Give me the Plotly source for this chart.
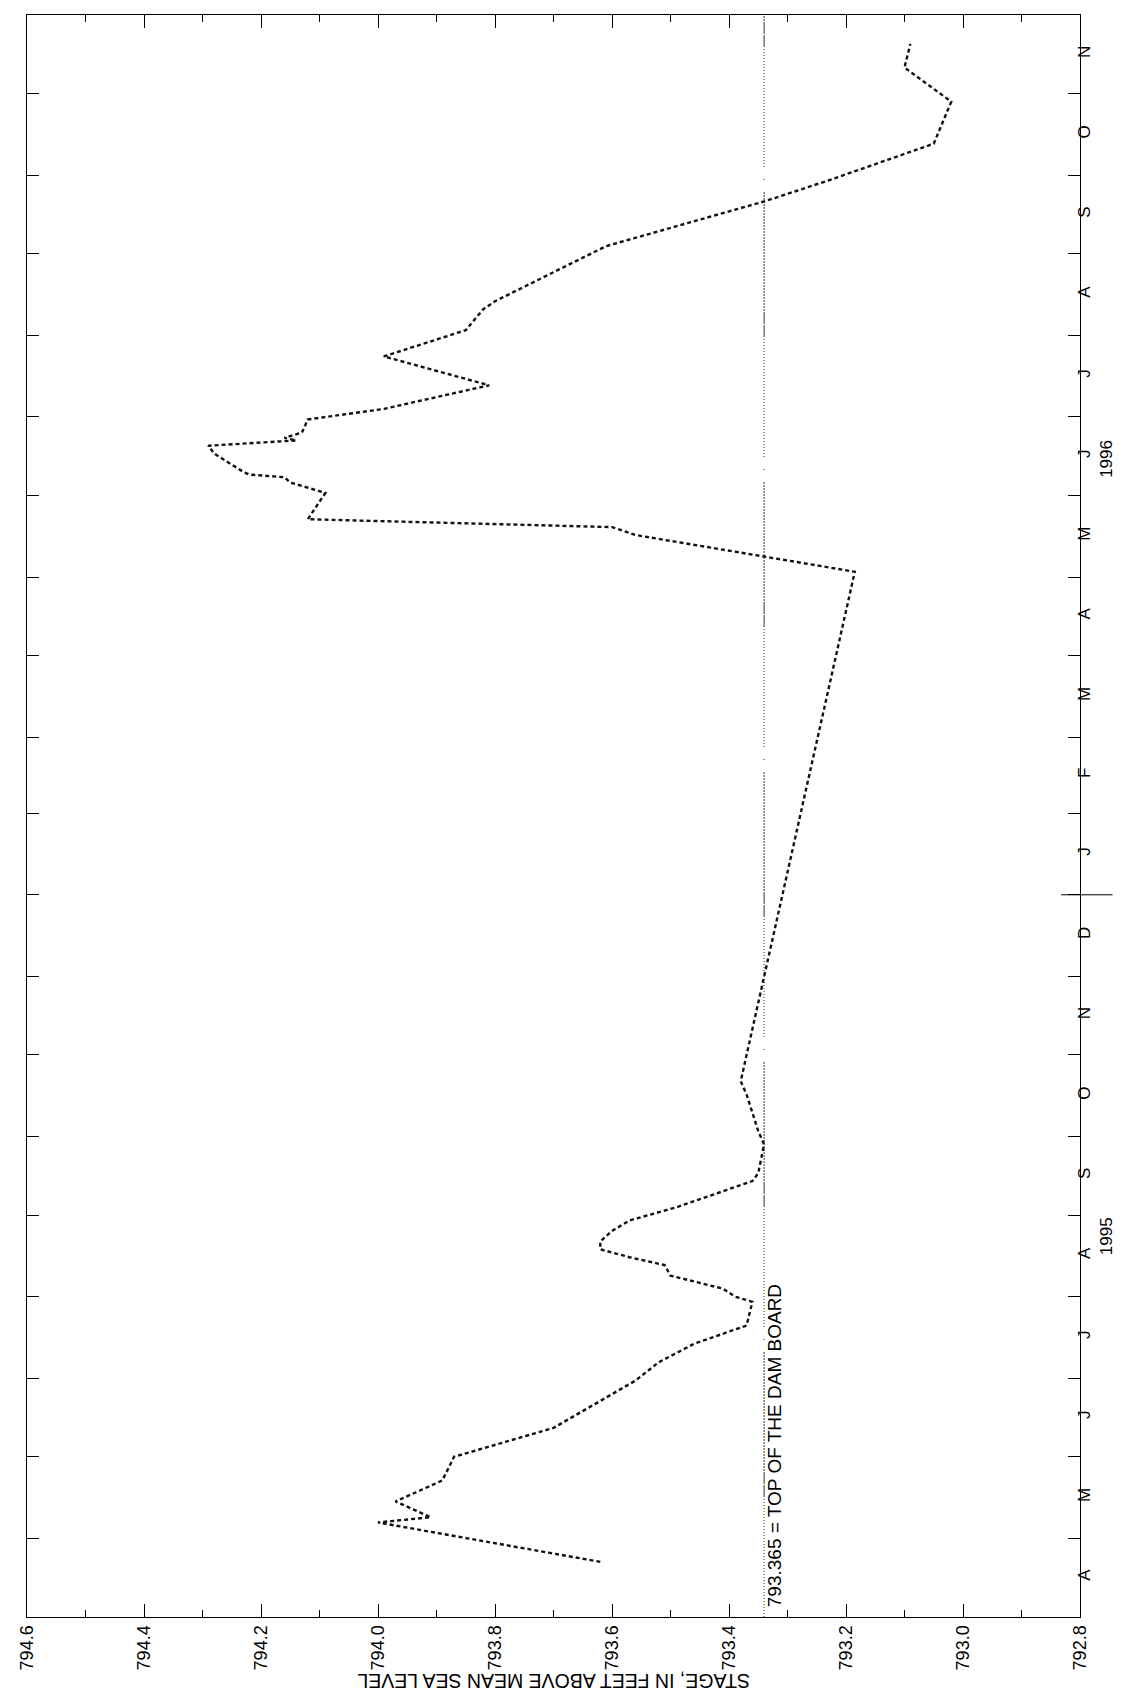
import pandas as pd
import plotly.graph_objects as go

# ---------------- data ----------------
obs_dates = [
    "1995-04-22", "1995-05-07", "1995-05-09", "1995-05-15", "1995-05-23",
    "1995-06-01", "1995-06-12", "1995-06-30", "1995-07-07", "1995-07-14",
    "1995-07-21", "1995-07-30", "1995-08-01", "1995-08-04", "1995-08-09",
    "1995-08-13", "1995-08-16", "1995-08-19", "1995-08-22", "1995-08-26",
    "1995-08-30", "1995-09-04", "1995-09-14", "1995-09-17", "1995-09-28",
    "1995-10-03", "1995-10-17", "1995-10-22",
    "1996-05-03", "1996-05-09", "1996-05-17", "1996-05-20", "1996-05-23",
    "1996-06-02", "1996-06-06", "1996-06-08", "1996-06-09", "1996-06-10",
    "1996-06-17", "1996-06-20", "1996-06-22", "1996-06-23", "1996-06-25",
    "1996-06-30",
    "1996-07-04", "1996-07-13", "1996-07-24", "1996-08-03", "1996-08-11",
    "1996-08-14", "1996-09-04", "1996-09-21", "1996-09-29", "1996-10-13",
    "1996-10-29", "1996-11-11", "1996-11-20",
]
stage_ft = [
    793.62, 794.00, 793.91, 793.97, 793.89,
    793.87, 793.70, 793.56, 793.52, 793.46,
    793.37, 793.36, 793.39, 793.41, 793.50,
    793.51, 793.57, 793.62, 793.62, 793.60,
    793.57, 793.49, 793.36, 793.35, 793.34,
    793.35, 793.37, 793.38,
    793.185, 793.345, 793.56, 793.60, 794.12,
    794.09, 794.15, 794.16, 794.22, 794.23,
    794.28, 794.29, 794.14, 794.16, 794.13,
    794.12,
    793.99, 793.81, 793.99, 793.85, 793.82,
    793.80, 793.61, 793.34, 793.23, 793.05,
    793.02, 793.10, 793.09,
]

dam_board_stage = 793.34          # where the dotted reference line is drawn
dam_board_label = "793.365 = TOP OF THE DAM BOARD"

stage_range = [794.6, 792.8]
time_range = ["1995-04-01", "1996-12-01"]
month_letters = ["A", "M", "J", "J", "A", "S", "O", "N", "D",
                 "J", "F", "M", "A", "M", "J", "J", "A", "S", "O", "N"]
year_labels = ["1995", "1996"]
year_centers = ["1995-08-23", "1996-06-14"]
year_break = "1996-01-01"
axis_title = "STAGE, IN FEET ABOVE MEAN SEA LEVEL"

# ---------------- derived ----------------
month_starts = pd.date_range(time_range[0], time_range[1], freq="MS")
month_mids = [a + (b - a) / 2 for a, b in zip(month_starts[:-1], month_starts[1:])]

FONT = "Liberation Sans, Arial, Helvetica, sans-serif"

# fine-dotted runs separated by short breaks (style of the dam-board line)
dam_dash = ",".join(["1px,2px"] * 40 + ["12px", "1px", "12px"])

fig = go.Figure()

fig.add_trace(go.Scatter(
    x=[dam_board_stage, dam_board_stage], y=time_range,
    mode="lines", line=dict(color="#333333", width=1, dash=dam_dash),
    hoverinfo="skip", showlegend=False,
))

fig.add_trace(go.Scatter(
    x=stage_ft, y=pd.to_datetime(obs_dates),
    mode="lines", line=dict(color="#111111", width=2.4, dash="4px,3px"),
    showlegend=False,
))

# empty traces that carry the month-letter and year label axes
fig.add_trace(go.Scatter(x=[None], y=[None], yaxis="y2", showlegend=False,
                         hoverinfo="skip"))
fig.add_trace(go.Scatter(x=[None], y=[None], yaxis="y3", showlegend=False,
                         hoverinfo="skip"))

fig.update_layout(
    width=1123, height=1702,
    margin=dict(l=19, r=51, t=7, b=93),
    paper_bgcolor="white", plot_bgcolor="white",
    font=dict(family=FONT, size=18, color="black"),
    xaxis=dict(
        range=stage_range, dtick=0.2, tick0=792.8, tickformat=".1f",
        tickangle=-90, ticks="inside", ticklen=13, tickwidth=1.2, tickcolor="black",
        minor=dict(dtick=0.1, ticks="inside", ticklen=7, tickwidth=1, tickcolor="black"),
        showline=True, linecolor="black", linewidth=1.3, mirror="ticks",
        showgrid=False, zeroline=False,
        tickfont=dict(size=18),
    ),
    yaxis=dict(
        type="date", range=time_range, side="right",
        tickmode="array", tickvals=list(month_starts), showticklabels=False,
        ticks="inside", ticklen=12, tickwidth=1.2, tickcolor="black",
        showline=True, linecolor="black", linewidth=1.3, mirror="ticks",
        showgrid=False, zeroline=False,
    ),
    yaxis2=dict(
        type="date", range=time_range, overlaying="y", side="right", anchor="x",
        tickmode="array", tickvals=month_mids, ticktext=month_letters,
        tickangle=-90, ticks="", showline=False, showgrid=False, zeroline=False,
        ticklabelstandoff=-8,
        tickfont=dict(size=17),
    ),
    yaxis3=dict(
        type="date", range=time_range, overlaying="y", side="right", anchor="x",
        tickmode="array", tickvals=year_centers, ticktext=year_labels,
        tickangle=-90, ticks="", showline=False, showgrid=False, zeroline=False,
        ticklabelstandoff=14,
        tickfont=dict(size=17),
    ),
)

fig.add_shape(type="line", xref="paper", yref="y", x0=0.982, x1=1.031,
              y0=year_break, y1=year_break, line=dict(color="black", width=1))

fig.add_annotation(text=dam_board_label, xref="x", yref="y",
                   x=dam_board_stage, y="1995-04-04", xshift=-2,
                   xanchor="left", yanchor="bottom", textangle=-90,
                   showarrow=False, font=dict(size=19))

fig.add_annotation(text=axis_title, xref="paper", yref="paper",
                   x=0.5, y=-0.040, xanchor="center", yanchor="middle",
                   textangle=180, showarrow=False, font=dict(size=19.5))

fig.write_html("out.html")
